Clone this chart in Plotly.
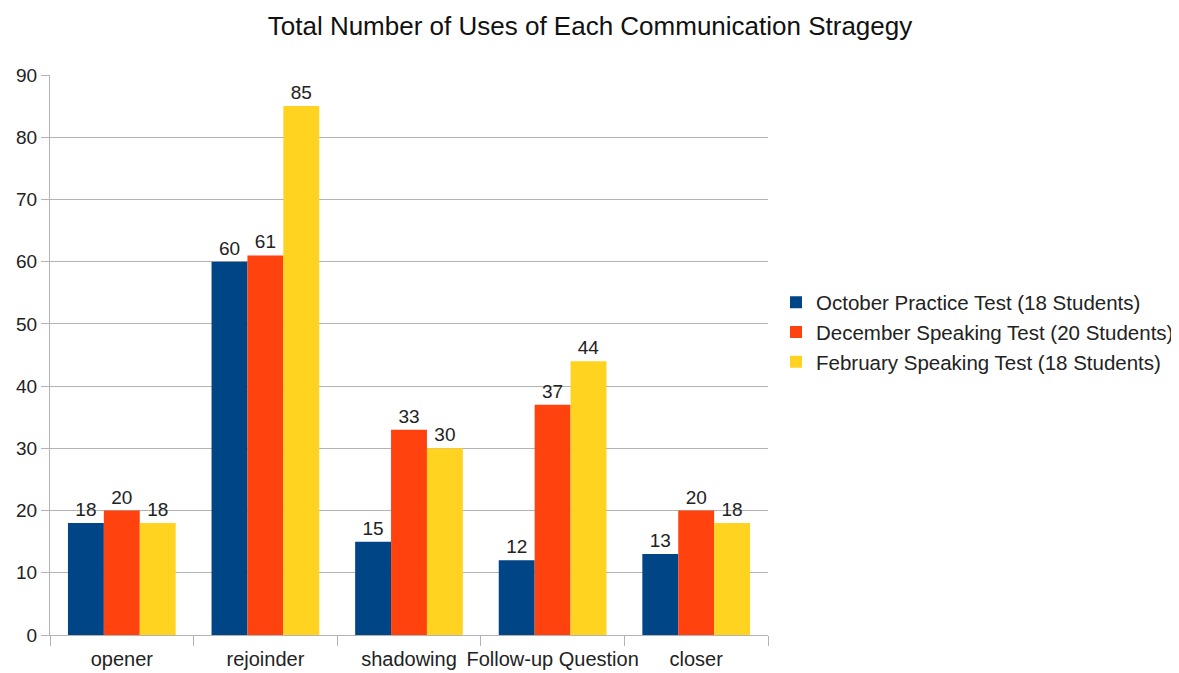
import plotly.graph_objects as go

categories = ["opener", "rejoinder", "shadowing", "Follow-up Question", "closer"]
october = [18, 60, 15, 12, 13]
december = [20, 61, 33, 37, 20]
february = [18, 85, 30, 44, 18]
series_names = ["October Practice Test (18 Students)",
                "December Speaking Test (20 Students)",
                "February Speaking Test (18 Students)"]
colors = ["#004586", "#ff420e", "#ffd320"]
y_ticks = [0, 10, 20, 30, 40, 50, 60, 70, 80, 90]

# page body has an 8px default margin, so positions are offset by -8
OFF = 8

fig = go.Figure()
for name, vals, col in zip(series_names, [october, december, february], colors):
    fig.add_trace(go.Bar(
        x=categories, y=vals, name=name, marker_color=col, marker_line_width=0,
        text=[str(v) for v in vals], textposition="outside", cliponaxis=False,
        textfont=dict(size=19, color="#222222", family="Liberation Sans"),
    ))

fig.update_layout(
    width=1179, height=673,
    barmode="group", bargap=0.25, bargroupgap=0,
    paper_bgcolor="white", plot_bgcolor="white",
    font=dict(family="Liberation Sans, Arial, sans-serif", size=19, color="#222222"),
    title=dict(text="Total Number of Uses of Each Communication Stragegy",
               x=(590 - OFF) / 1179, xanchor="center", y=1 - (26 - OFF) / 673,
               yanchor="middle", font=dict(size=26, color="#111111")),
    margin=dict(l=50 - OFF, r=411 + OFF, t=75 - OFF, b=38 + OFF, autoexpand=False),
    legend=dict(xref="container", yref="container", x=(776 - OFF) / 1179,
                y=1 - (332 - OFF) / 673, xanchor="left", yanchor="middle",
                font=dict(size=20.5, color="#222222"), itemwidth=30,
                tracegroupgap=0),
    showlegend=True,
)
fig.update_yaxes(range=[0, 90], tickvals=y_ticks, showgrid=True, gridcolor="#b3b3b3",
                 gridwidth=1, showline=True, linecolor="#b3b3b3", ticks="outside",
                 ticklen=8, tickcolor="#b3b3b3", zeroline=False, automargin=False,
                 tickfont=dict(size=19, color="#222222"))
fig.update_xaxes(showline=True, linecolor="#b3b3b3", ticks="outside",
                 tickson="boundaries", ticklen=10, tickcolor="#b3b3b3",
                 tickangle=0, automargin=False, ticklabelstandoff=6,
                 tickfont=dict(size=20, color="#222222"))

fig.write_html("out.html")
